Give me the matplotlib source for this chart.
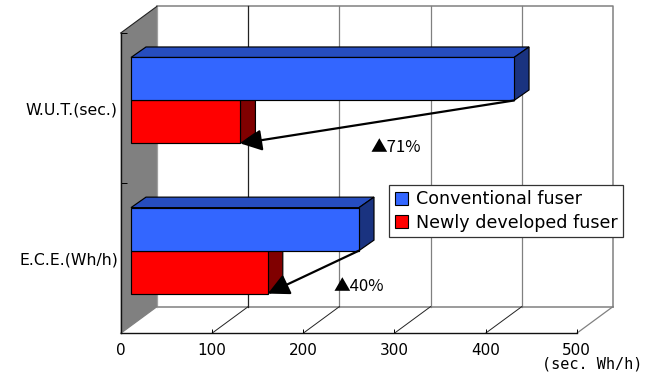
import matplotlib
matplotlib.use("Agg")
import matplotlib.pyplot as plt
from matplotlib.patches import Patch, Polygon

plt.rcParams['font.family'] = ['DejaVu Sans']
CJK = ['Noto Sans CJK JP', 'DejaVu Sans']

categories = ["E.C.E.(Wh/h)", "W.U.T.(sec.)"]
conventional = [250, 420]
newly = [150, 120]
reductions = ["▲40%", "▲71%"]
series_names = ["Conventional fuser", "Newly developed fuser"]
xticks = [0, 100, 200, 300, 400, 500]
unit_label = "(sec. Wh/h)"

W, H = 653, 374
fig = plt.figure(figsize=(W / 100, H / 100), dpi=100, facecolor="white")
L, R, T, B = 120.7, 576.7, 33.0, 333.3
ax = fig.add_axes([L / W, (H - B) / H, (R - L) / W, (B - T) / H])
ax.set_xlim(0, 500)
ax.set_ylim(0, 2)
ax.patch.set_alpha(0)

PX = 500 / (R - L)
PY = 2 / (B - T)
WALL_DX, WALL_DY = 36.3 * PX, 26.7 * PY
BAR_DX, BAR_DY = 10.3 * PX, 7.6 * PY
DEP_DX, DEP_DY = 15.0 * PX, 10.5 * PY
BAR_H = 43.0 * PY
GRAY = "#808080"
lw = 0.85


def poly(pts, fc, ec="black", z=3, w=lw):
    ax.add_patch(Polygon(pts, closed=True, fc=fc, ec=ec, lw=w, zorder=z, clip_on=False, joinstyle="miter"))


# walls
poly([(0, 0), (WALL_DX, WALL_DY), (WALL_DX, 2 + WALL_DY), (0, 2)], GRAY, ec="none", z=1)
ax.plot([WALL_DX, 500 + WALL_DX, 500 + WALL_DX], [2 + WALL_DY, 2 + WALL_DY, WALL_DY], color=GRAY, lw=1.1, clip_on=False, zorder=1)
ax.plot([WALL_DX, 500 + WALL_DX], [WALL_DY, WALL_DY], color=GRAY, lw=1.1, clip_on=False, zorder=1)
ax.plot([WALL_DX, WALL_DX], [WALL_DY, 2 + WALL_DY], color="#a0a0a0", lw=0.9, clip_on=False, zorder=1)
ax.plot([0, WALL_DX], [2, 2 + WALL_DY], color="#222222", lw=0.8, clip_on=False, zorder=2)
for v in xticks[1:-1]:
    ax.plot([v + WALL_DX] * 2, [WALL_DY, 2 + WALL_DY], color="#222222" if v == 100 else GRAY, lw=0.9, clip_on=False, zorder=1)
    ax.plot([v, v + WALL_DX], [0, WALL_DY], color="#222222", lw=0.7, clip_on=False, zorder=1)
ax.plot([500, 500 + WALL_DX], [0, WALL_DY], color=GRAY, lw=0.9, clip_on=False, zorder=1)
ax.plot([0, WALL_DX], [0, WALL_DY], color=GRAY, lw=0.9, clip_on=False, zorder=1)

centers = [0.5, 1.5]
for i, c in enumerate(centers):
    y0 = c + BAR_DY
    # newly developed: lower bar
    xr = BAR_DX + newly[i]
    poly([(xr, y0), (xr + DEP_DX, y0 + DEP_DY), (xr + DEP_DX, y0 - BAR_H + DEP_DY), (xr, y0 - BAR_H)], "#800000", z=3)
    ax.barh(y0 - BAR_H / 2, newly[i], BAR_H, left=BAR_DX, color="#ff0000", edgecolor="black", linewidth=lw, zorder=4, clip_on=False)
    # conventional: upper bar
    xb = BAR_DX + conventional[i]
    top = y0 + BAR_H
    poly([(BAR_DX, top), (BAR_DX + DEP_DX, top + DEP_DY), (xb + DEP_DX, top + DEP_DY), (xb, top)], "#264dbf", z=5)
    poly([(xb, top), (xb + DEP_DX, top + DEP_DY), (xb + DEP_DX, y0 + DEP_DY), (xb, y0)], "#1a3380", z=5)
    ax.barh(y0 + BAR_H / 2, conventional[i], BAR_H, left=BAR_DX, color="#3366ff", edgecolor="black", linewidth=lw, zorder=6, clip_on=False)
    # reduction arrow
    ax.annotate("", xy=(xr, y0 - BAR_H), xytext=(xb, y0), zorder=8, annotation_clip=False,
                arrowprops=dict(arrowstyle="-|>,head_length=1.0,head_width=0.5", color="black", lw=1.6,
                                shrinkA=0, shrinkB=0, mutation_scale=13))

ax.text(274, 1.0 + 0.235, reductions[1], fontsize=12, family=CJK, ha="left", va="center", zorder=9, clip_on=False)
ax.text(233, 0.31, reductions[0], fontsize=12, family=CJK, ha="left", va="center", zorder=9, clip_on=False)

# axes
for s in ("top", "right"):
    ax.spines[s].set_visible(False)
for s in ("left", "bottom"):
    ax.spines[s].set_linewidth(1.0)
    ax.spines[s].set_color("#111111")
    ax.spines[s].set_zorder(2)
ax.set_xticks(xticks)
ax.set_xticklabels([str(v) for v in xticks], fontsize=11)
ax.tick_params(axis="x", direction="in", length=3, width=0.7, pad=7)
ax.set_yticks([0, 1, 2])
ax.set_yticklabels([])
ax.tick_params(axis="y", direction="in", length=4, width=0.7)
ax.set_yticks(centers, minor=True)
ax.set_yticklabels(categories, minor=True, fontsize=11.3)
ax.tick_params(axis="y", which="minor", length=0, pad=2)

fig.text(642 / W, 1 - 364 / H, unit_label, fontsize=11, family="DejaVu Sans Mono", ha="right", va="center")

handles = [Patch(fc="#3366ff", ec="black", lw=0.8), Patch(fc="#ff0000", ec="black", lw=0.8)]
leg = ax.legend(handles, series_names, loc="upper left", bbox_to_anchor=(389.3 / W, 1 - 184.7 / H),
                bbox_transform=fig.transFigure, fontsize=12.6, fancybox=False, framealpha=1,
                edgecolor="#333333", borderaxespad=0, borderpad=0.32, handlelength=0.75, handleheight=0.75,
                handletextpad=0.45, labelspacing=0.3)
leg.get_frame().set_linewidth(0.9)
leg.set_zorder(10)

fig.savefig("out.png", dpi=100)
